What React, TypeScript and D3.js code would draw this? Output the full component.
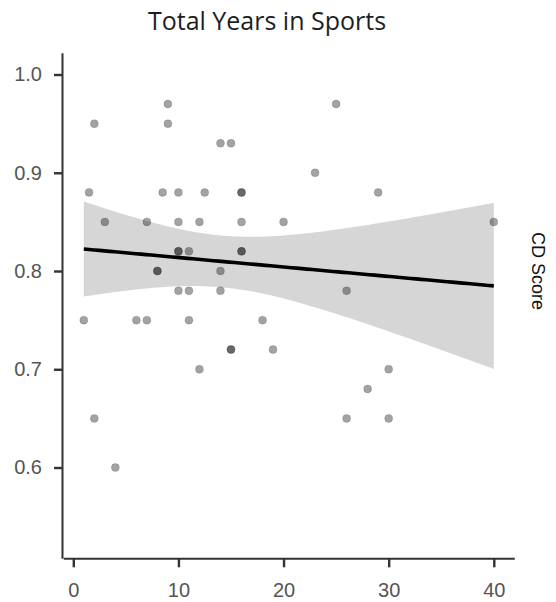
import React, {Component} from 'react'
import * as d3 from 'd3'

// values (x = total years in sports, y = CD score)
const yearsInSports = [
	25, 23, 29, 20, 40, 26, 18, 19, 28, 30, 26, 30, 15, 15, 12, 2, 4, 1, 6, 7,
	11, 14, 10, 11, 8, 8, 14, 10, 10, 11, 16, 16, 3, 7, 10, 12, 16, 1.5, 8.5, 10,
	12.5, 16, 16, 14, 15, 2, 9, 9,
]
const cdScore = [
	0.97, 0.90, 0.88, 0.85, 0.85, 0.78, 0.75, 0.72, 0.68, 0.70, 0.65, 0.65, 0.72, 0.72, 0.70, 0.65, 0.60, 0.75, 0.75, 0.75,
	0.75, 0.78, 0.78, 0.78, 0.80, 0.80, 0.80, 0.82, 0.82, 0.82, 0.82, 0.82, 0.85, 0.85, 0.85, 0.85, 0.85, 0.88, 0.88, 0.88,
	0.88, 0.88, 0.88, 0.93, 0.93, 0.95, 0.95, 0.97,
]
const xTicks = [0, 10, 20, 30, 40]
const yTicks = [0.6, 0.7, 0.8, 0.9, 1.0]
const title = 'Total Years in Sports'
const yLabel = 'CD Score'

const W = 556
const H = 602

class ScatterFit extends Component {
	svg: SVGSVGElement | null = null
	xAxis: SVGGElement | null = null
	yAxis: SVGGElement | null = null
	band: SVGPathElement | null = null
	fit: SVGPathElement | null = null
	points: SVGGElement | null = null
	xScale: any
	yScale: any

	render(){
		return (
			<svg ref={(svg) => this.svg = svg} width={W} height={H} style={{position:'absolute', left:0, top:0, background:'#fff'}}>
				<text x={267} y={29.5} textAnchor="middle" style={{fontFamily:'"Open Sans", sans-serif', fontSize:'25px', fill:'#1e1e1e'}}>{title}</text>
				<path ref={(p) => this.band = p}/>
				<path ref={(p) => this.fit = p}/>
				<g ref={(g) => this.points = g}/>
				<g ref={(g) => this.yAxis = g}/>
				<g ref={(g) => this.xAxis = g}/>
				<text transform="translate(532,271) rotate(90)" textAnchor="middle" style={{fontFamily:'"Liberation Sans", Arial, sans-serif', fontSize:'18px', fill:'#111'}}>{yLabel}</text>
			</svg>
		)
	}
	createScales(){
		this.xScale = d3.scaleLinear()
			.domain([-0.95, 41.95])
			.range([63.3, 514.3])
		this.yScale = d3.scaleLinear()
			.domain([0.5076, 1.0222])
			.range([558.3, 52.7])
	}
	createAxis(){
		let yAxisGenerator = d3.axisLeft(this.yScale)
			.tickValues(yTicks)
			.tickFormat(d3.format('.1f'))
			.tickSizeInner(8)
			.tickSizeOuter(0)
			.tickPadding(12)
		let xAxisGenerator = d3.axisBottom(this.xScale)
			.tickValues(xTicks)
			.tickFormat(d3.format('d'))
			.tickSizeInner(9)
			.tickSizeOuter(0)
			.tickPadding(16)
		d3.select(this.yAxis)
			.attr('transform', 'translate(62,0)')
			.call(yAxisGenerator)
		d3.select(this.xAxis)
			.attr('transform', 'translate(0,558.3)')
			.call(xAxisGenerator)
		for (let g of [this.xAxis, this.yAxis]) {
			let sel = d3.select(g)
			sel.select('.domain').attr('stroke', '#333').attr('stroke-width', 2)
			sel.selectAll('.tick line').attr('stroke', '#333').attr('stroke-width', 2.4)
			sel.selectAll('.tick text')
				.attr('fill', '#555')
				.style('font-family', '"Liberation Sans", Arial, sans-serif')
				.style('font-size', '20px')
		}
	}
	createFit(){
		// ordinary least squares with a 95% confidence band, like geom_smooth(method = 'lm')
		let n = yearsInSports.length
		let mx = d3.mean(yearsInSports) as number
		let my = d3.mean(cdScore) as number
		let sxx = d3.sum(yearsInSports, (x) => (x - mx) * (x - mx))
		let sxy = d3.sum(yearsInSports, (x, i) => (x - mx) * (cdScore[i] - my))
		let slope = sxy / sxx
		let intercept = my - slope * mx
		let sse = d3.sum(yearsInSports, (x, i) => {
			let r = cdScore[i] - (intercept + slope * x)
			return r * r
		})
		let s = Math.sqrt(sse / (n - 2))
		let t = 2.0129 // t(0.975, df = 46)
		let [x0, x1] = d3.extent(yearsInSports) as [number, number]
		let grid = d3.range(80).map((i) => x0 + (x1 - x0) * i / 79)
		let fitted = grid.map((x) => {
			let yhat = intercept + slope * x
			let se = s * Math.sqrt(1 / n + (x - mx) * (x - mx) / sxx)
			return {x, yhat, lo: yhat - t * se, hi: yhat + t * se}
		})
		let xScale = this.xScale
		let yScale = this.yScale
		let areaGenerator = d3.area<any>()
			.x((d) => xScale(d.x))
			.y0((d) => yScale(d.lo))
			.y1((d) => yScale(d.hi))
		let lineGenerator = d3.line<any>()
			.x((d) => xScale(d.x))
			.y((d) => yScale(d.yhat))
		d3.select(this.band)
			.datum(fitted)
			.attr('fill', '#d6d6d6')
			.attr('stroke', 'none')
			.attr('d', areaGenerator)
		d3.select(this.fit)
			.datum(fitted)
			.attr('fill', 'none')
			.attr('stroke', '#000')
			.attr('stroke-width', 3.6)
			.attr('d', lineGenerator)
	}
	createPoints(){
		let xScale = this.xScale
		let yScale = this.yScale
		d3.select(this.points)
			.selectAll('circle')
			.data(yearsInSports)
			.join('circle')
			.attr('cx', (d) => xScale(d))
			.attr('cy', (d, i) => yScale(cdScore[i]))
			.attr('r', 4)
			.attr('fill', '#000')
			.attr('fill-opacity', 0.36)
			.attr('stroke', '#000')
			.attr('stroke-opacity', 0.12)
			.attr('stroke-width', 1)
	}
	componentDidMount(){
		this.createScales()
		this.createFit()
		this.createPoints()
		this.createAxis()
	}
}

export default function App(){
	return <ScatterFit/>
}
